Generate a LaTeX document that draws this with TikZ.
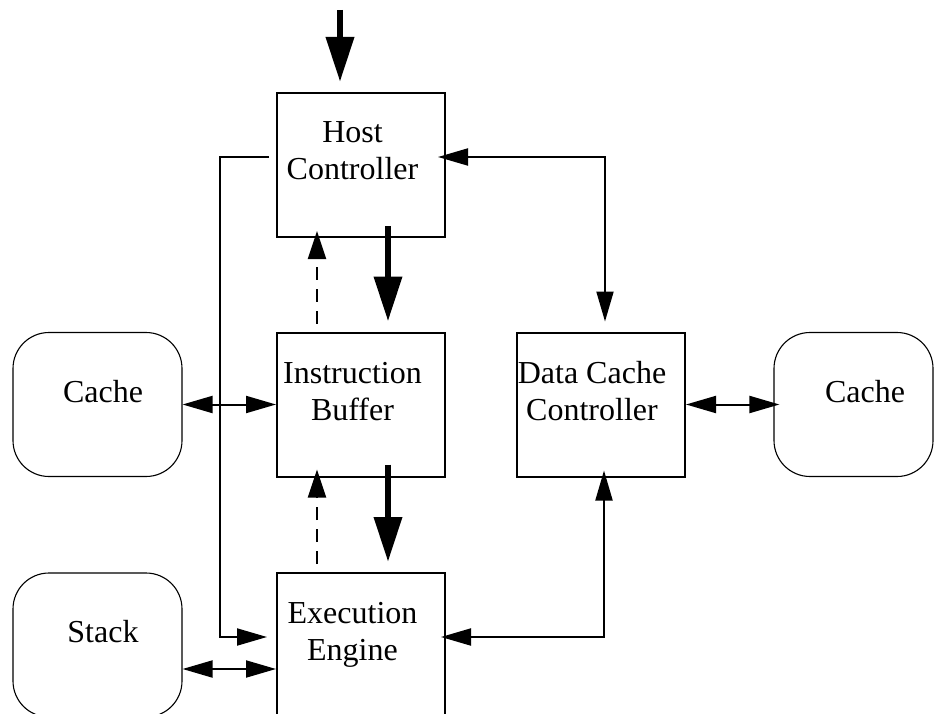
\documentclass[tikz,border=0pt]{standalone}
\usepackage{fontspec}
\setmainfont{Liberation Serif}
\usetikzlibrary{arrows.meta,calc}
\begin{document}
\begin{tikzpicture}[x=1pt,y=-1pt,
  box/.style={draw, line width=2pt, minimum width=168pt, minimum height=144pt, inner sep=0pt},
  blob/.style={draw, line width=1.1pt, rounded corners=36pt, minimum width=169pt, minimum height=144pt, inner sep=0pt},
  lbl/.style={inner sep=0pt, anchor=base, font=\fontsize{32}{37}\selectfont},
  conn/.style={line width=2pt},
  bothway/.style={conn, {Triangle[length=30pt,width=17pt]}-{Triangle[length=30pt,width=17pt]}},
  oneway/.style={conn, -{Triangle[length=30pt,width=17pt]}},
  bigarrow/.style={line width=6.7pt, -{Triangle[length=45pt,width=27pt]}},
  dasharrow/.style={line width=2pt, dash pattern=on 13pt off 9pt, -{Triangle[length=28pt,width=18pt]}}
]
\useasboundingbox (0,0) rectangle (934,714);
\clip (0,0) rectangle (934,714);
\fill[white] (0,0) rectangle (934,714);

% boxes
\node[box] (hc) at (361,165) {};
\node[box] (ib) at (361,404.5) {};
\node[box, minimum height=200pt] (ee) at (361,673) {};
\node[box] (dcc) at (601,404.5) {};
\node[blob] (lc) at (97.5,404.5) {};
\node[blob, minimum width=159pt] (rc) at (853.5,404.5) {};
\node[blob] (st) at (97.5,645) {};

% labels
\node[lbl] (hcA) at (352.5,143) {Host};
\node[lbl] (hcB) at (352.5,180) {Controller};
\node[lbl] (ibA) at (352.5,383) {Instruction};
\node[lbl] (ibB) at (352.5,420) {Buffer};
\node[lbl] (eeA) at (352.5,623) {Execution};
\node[lbl] (eeB) at (352.5,660) {Engine};
\node[lbl] (dccA) at (592,383) {Data Cache};
\node[lbl] (dccB) at (592,420) {Controller};
\node[lbl] (lcA) at (103,402) {Cache};
\node[lbl] (rcA) at (865,402) {Cache};
\node[lbl] (stA) at (103,642) {Stack};

% input arrow
\coordinate (in0) at (340,10);
\draw[bigarrow, shorten >=10pt] (in0) -- (in0 |- hc.north);

% pipeline arrows
\draw[bigarrow] ($(hc.south)+(27,-12)$) -- ($(ib.north)+(27,-10)$);
\draw[bigarrow] ($(ib.south)+(27,-13)$) -- ($(ee.north)+(27,-10)$);

% dashed feedback
\draw[dasharrow] ($(ib.north)+(-44,-8)$) -- ($(hc.south)+(-44,-7)$);
\draw[dasharrow] ($(ee.north)+(-44,-8)$) -- ($(ib.south)+(-44,-8)$);

% host <-> data cache controller
\draw[bothway] ($(hc.east)+(-8,-8)$) -| ($(dcc.north)+(4,-10)$);
% data cache controller <-> execution engine
\draw[bothway] ($(dcc.south)+(3,-7)$) |- ($(ee.east)+(-5,-36)$);
% host -> execution engine (left bus)
\draw[oneway] ($(hc.west)+(-7,-8)$) -- ++(-49,0) |- ($(ee.west)+(-9,-36)$);

% caches and stack
\draw[bothway] (lc.east) -- (ib.west);
\draw[bothway] (dcc.east) -- ($(rc.west)+(6,0)$);
\draw[bothway] ($(st.east)+(0,24)$) -- ($(ee.west)+(0,-4)$);
\end{tikzpicture}
\end{document}
